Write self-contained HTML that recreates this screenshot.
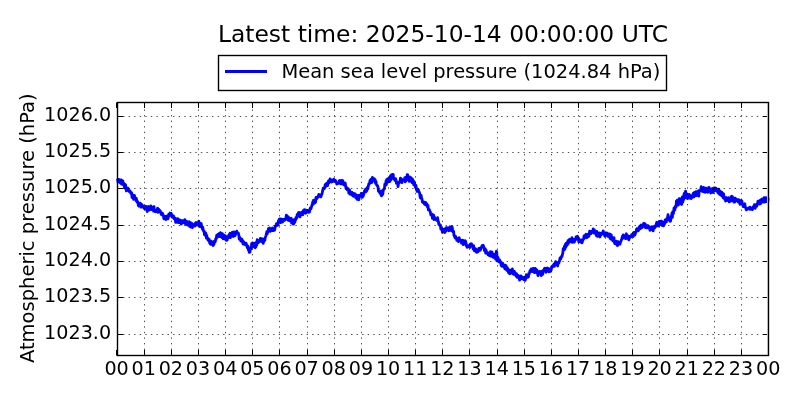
<!DOCTYPE html>
<html><head><meta charset="utf-8"><title>Mean sea level pressure</title>
<style>
html,body{margin:0;padding:0;background:#fff;}
body{width:800px;height:400px;overflow:hidden;}
svg{display:block;font-family:"DejaVu Sans","Liberation Sans",sans-serif;}
text{fill:#000;}
</style></head><body>
<svg width="800" height="400" viewBox="0 0 800 400">
<rect width="800" height="400" fill="#fff"/>
<path d="M117.60 178.53 L118.00 182.16 L118.40 181.84 L118.80 179.45 L119.20 180.83 L119.60 180.80 L120.00 182.03 L120.40 183.05 L120.80 179.90 L121.20 179.86 L121.60 184.15 L122.00 182.35 L122.40 184.24 L122.80 180.79 L123.20 183.41 L123.60 185.28 L124.00 183.34 L124.40 187.47 L124.80 188.00 L125.20 184.41 L125.60 185.07 L126.00 188.31 L126.40 190.94 L126.80 188.54 L127.20 188.14 L127.60 189.60 L128.00 188.07 L128.40 189.45 L128.80 190.92 L129.20 191.60 L129.60 190.67 L130.00 191.02 L130.40 191.56 L130.80 193.45 L131.20 193.29 L131.60 192.67 L132.00 197.50 L132.40 196.43 L132.80 197.17 L133.20 195.18 L133.60 199.46 L134.00 199.00 L134.40 195.49 L134.80 196.73 L135.20 198.91 L135.60 199.14 L136.00 200.61 L136.40 198.41 L136.80 201.55 L137.20 202.07 L137.60 201.39 L138.00 203.48 L138.40 205.59 L138.80 206.02 L139.20 204.92 L139.60 205.70 L140.00 203.05 L140.40 204.21 L140.80 207.11 L141.20 205.30 L141.60 204.19 L142.00 206.19 L142.40 207.16 L142.80 207.22 L143.20 205.93 L143.60 206.46 L144.00 207.01 L144.40 208.57 L144.80 207.63 L145.20 207.35 L145.60 208.19 L146.00 206.24 L146.40 206.66 L146.80 210.31 L147.20 211.54 L147.60 209.26 L148.00 207.95 L148.40 206.54 L148.80 207.94 L149.20 210.20 L149.60 209.01 L150.00 207.69 L150.40 209.15 L150.80 205.88 L151.20 207.19 L151.60 209.63 L152.00 208.07 L152.40 207.79 L152.80 207.15 L153.20 208.85 L153.60 211.20 L154.00 206.72 L154.40 210.84 L154.80 211.21 L155.20 211.69 L155.60 211.09 L156.00 211.58 L156.40 210.24 L156.80 210.49 L157.20 209.90 L157.60 208.17 L158.00 212.39 L158.40 211.05 L158.80 209.35 L159.20 211.04 L159.60 211.09 L160.00 210.59 L160.40 211.29 L160.80 213.00 L161.20 214.15 L161.60 214.80 L162.00 214.68 L162.40 213.05 L162.80 214.55 L163.20 214.77 L163.60 217.25 L164.00 218.81 L164.40 218.52 L164.80 218.59 L165.20 218.86 L165.60 216.32 L166.00 219.49 L166.40 218.89 L166.80 216.15 L167.20 215.97 L167.60 215.87 L168.00 218.87 L168.40 215.63 L168.80 214.22 L169.20 216.06 L169.60 214.31 L170.00 212.98 L170.40 213.42 L170.80 215.24 L171.20 213.45 L171.60 214.33 L172.00 217.00 L172.40 216.26 L172.80 216.20 L173.20 217.59 L173.60 215.94 L174.00 218.31 L174.40 219.01 L174.80 218.33 L175.20 218.22 L175.60 222.28 L176.00 220.44 L176.40 219.08 L176.80 221.23 L177.20 222.44 L177.60 218.62 L178.00 218.77 L178.40 219.56 L178.80 222.52 L179.20 219.87 L179.60 222.66 L180.00 222.55 L180.40 221.90 L180.80 220.27 L181.20 224.03 L181.60 223.20 L182.00 221.93 L182.40 220.65 L182.80 222.83 L183.20 221.57 L183.60 222.46 L184.00 221.13 L184.40 222.58 L184.80 219.55 L185.20 220.76 L185.60 224.30 L186.00 224.00 L186.40 221.31 L186.80 224.24 L187.20 221.70 L187.60 225.10 L188.00 224.46 L188.40 223.18 L188.80 222.71 L189.20 221.76 L189.60 226.32 L190.00 222.26 L190.40 226.33 L190.80 227.11 L191.20 225.15 L191.60 223.23 L192.00 226.83 L192.40 227.50 L192.80 226.29 L193.20 225.44 L193.60 224.87 L194.00 224.74 L194.40 224.00 L194.80 226.08 L195.20 224.60 L195.60 223.16 L196.00 222.51 L196.40 225.11 L196.80 223.01 L197.20 223.78 L197.60 222.62 L198.00 225.03 L198.40 225.28 L198.80 221.12 L199.20 222.25 L199.60 223.11 L200.00 226.65 L200.40 225.81 L200.80 223.84 L201.20 223.52 L201.60 226.20 L202.00 227.57 L202.40 229.01 L202.80 227.04 L203.20 230.68 L203.60 230.61 L204.00 230.77 L204.40 234.57 L204.80 232.03 L205.20 235.39 L205.60 232.79 L206.00 233.81 L206.40 238.12 L206.80 235.27 L207.20 238.58 L207.60 238.39 L208.00 240.24 L208.40 238.56 L208.80 239.09 L209.20 239.36 L209.60 242.74 L210.00 241.93 L210.40 244.17 L210.80 244.34 L211.20 241.10 L211.60 243.71 L212.00 241.97 L212.40 242.13 L212.80 242.08 L213.20 245.57 L213.60 244.65 L214.00 244.27 L214.40 241.19 L214.80 241.76 L215.20 241.82 L215.60 239.11 L216.00 239.49 L216.40 237.00 L216.80 235.13 L217.20 234.97 L217.60 237.03 L218.00 234.32 L218.40 236.14 L218.80 234.14 L219.20 233.49 L219.60 236.25 L220.00 236.64 L220.40 232.75 L220.80 236.20 L221.20 233.45 L221.60 233.70 L222.00 237.70 L222.40 233.65 L222.80 234.87 L223.20 238.87 L223.60 236.30 L224.00 235.09 L224.40 235.67 L224.80 236.29 L225.20 239.01 L225.60 235.98 L226.00 239.99 L226.40 237.32 L226.80 240.31 L227.20 240.09 L227.60 237.02 L228.00 236.49 L228.40 237.27 L228.80 235.06 L229.20 237.48 L229.60 233.98 L230.00 233.31 L230.40 237.68 L230.80 233.79 L231.20 234.87 L231.60 234.11 L232.00 233.46 L232.40 232.21 L232.80 236.40 L233.20 236.56 L233.60 236.42 L234.00 231.93 L234.40 232.22 L234.80 234.01 L235.20 235.58 L235.60 233.14 L236.00 233.65 L236.40 233.34 L236.80 231.18 L237.20 233.13 L237.60 232.74 L238.00 233.23 L238.40 233.19 L238.80 234.93 L239.20 239.13 L239.60 237.05 L240.00 238.60 L240.40 239.07 L240.80 241.06 L241.20 238.81 L241.60 238.96 L242.00 239.67 L242.40 240.24 L242.80 243.42 L243.20 244.10 L243.60 241.55 L244.00 242.09 L244.40 243.54 L244.80 244.17 L245.20 244.78 L245.60 243.62 L246.00 243.11 L246.40 244.85 L246.80 244.62 L247.20 247.62 L247.60 245.81 L248.00 246.45 L248.40 250.00 L248.80 249.06 L249.20 252.33 L249.60 250.89 L250.00 252.07 L250.40 247.81 L250.80 248.53 L251.20 248.67 L251.60 243.71 L252.00 246.99 L252.40 242.94 L252.80 245.86 L253.20 246.89 L253.60 246.15 L254.00 243.90 L254.40 243.19 L254.80 245.53 L255.20 247.79 L255.60 244.85 L256.00 246.86 L256.40 242.10 L256.80 244.95 L257.20 239.58 L257.60 240.19 L258.00 242.83 L258.40 242.04 L258.80 242.25 L259.20 241.63 L259.60 241.03 L260.00 240.79 L260.40 238.34 L260.80 239.78 L261.20 238.60 L261.60 241.66 L262.00 241.65 L262.40 239.72 L262.80 238.87 L263.20 243.25 L263.60 241.88 L264.00 240.02 L264.40 239.46 L264.80 240.50 L265.20 237.80 L265.60 236.58 L266.00 235.33 L266.40 233.94 L266.80 231.77 L267.20 234.02 L267.60 232.07 L268.00 232.05 L268.40 228.74 L268.80 229.53 L269.20 228.26 L269.60 228.03 L270.00 228.56 L270.40 231.26 L270.80 229.14 L271.20 229.36 L271.60 230.61 L272.00 228.91 L272.40 227.96 L272.80 230.48 L273.20 230.13 L273.60 230.62 L274.00 229.29 L274.40 230.26 L274.80 229.52 L275.20 226.13 L275.60 226.55 L276.00 225.65 L276.40 223.68 L276.80 224.05 L277.20 224.21 L277.60 225.32 L278.00 224.67 L278.40 221.00 L278.80 222.47 L279.20 219.10 L279.60 218.87 L280.00 220.80 L280.40 222.54 L280.80 218.88 L281.20 221.85 L281.60 222.34 L282.00 219.38 L282.40 221.20 L282.80 221.86 L283.20 219.34 L283.60 220.85 L284.00 220.61 L284.40 219.34 L284.80 220.11 L285.20 219.78 L285.60 219.58 L286.00 217.14 L286.40 215.07 L286.80 215.97 L287.20 216.35 L287.60 218.66 L288.00 220.16 L288.40 216.92 L288.80 220.27 L289.20 220.61 L289.60 218.91 L290.00 219.88 L290.40 218.35 L290.80 221.41 L291.20 218.23 L291.60 223.23 L292.00 222.68 L292.40 222.14 L292.80 220.72 L293.20 224.16 L293.60 224.11 L294.00 219.70 L294.40 222.54 L294.80 222.49 L295.20 220.78 L295.60 219.80 L296.00 217.35 L296.40 218.58 L296.80 217.70 L297.20 214.36 L297.60 216.31 L298.00 214.31 L298.40 212.78 L298.80 213.42 L299.20 212.53 L299.60 216.54 L300.00 216.90 L300.40 212.84 L300.80 215.21 L301.20 214.03 L301.60 212.37 L302.00 213.05 L302.40 212.61 L302.80 214.81 L303.20 210.74 L303.60 211.30 L304.00 212.15 L304.40 209.62 L304.80 212.52 L305.20 212.28 L305.60 213.28 L306.00 210.02 L306.40 210.36 L306.80 211.68 L307.20 210.42 L307.60 212.12 L308.00 210.62 L308.40 212.41 L308.80 212.35 L309.20 211.77 L309.60 211.83 L310.00 208.84 L310.40 207.86 L310.80 208.99 L311.20 207.92 L311.60 206.38 L312.00 204.84 L312.40 203.43 L312.80 201.69 L313.20 204.33 L313.60 200.02 L314.00 202.63 L314.40 201.25 L314.80 202.93 L315.20 201.45 L315.60 202.01 L316.00 197.38 L316.40 198.75 L316.80 198.68 L317.20 196.93 L317.60 197.51 L318.00 196.55 L318.40 197.16 L318.80 194.28 L319.20 196.27 L319.60 196.05 L320.00 195.02 L320.40 195.19 L320.80 196.80 L321.20 195.98 L321.60 194.22 L322.00 194.12 L322.40 191.90 L322.80 190.16 L323.20 188.17 L323.60 188.22 L324.00 188.50 L324.40 188.58 L324.80 186.97 L325.20 184.59 L325.60 186.75 L326.00 183.89 L326.40 185.54 L326.80 183.22 L327.20 184.65 L327.60 185.61 L328.00 181.96 L328.40 181.05 L328.80 183.05 L329.20 182.28 L329.60 181.07 L330.00 178.91 L330.40 180.45 L330.80 180.32 L331.20 179.99 L331.60 182.03 L332.00 180.39 L332.40 180.88 L332.80 181.48 L333.20 180.56 L333.60 179.17 L334.00 180.40 L334.40 179.89 L334.80 180.54 L335.20 181.04 L335.60 180.50 L336.00 182.17 L336.40 182.54 L336.80 184.08 L337.20 183.31 L337.60 183.61 L338.00 183.16 L338.40 183.36 L338.80 182.27 L339.20 180.96 L339.60 180.55 L340.00 182.81 L340.40 183.81 L340.80 182.31 L341.20 180.48 L341.60 183.96 L342.00 182.31 L342.40 182.42 L342.80 180.52 L343.20 183.08 L343.60 184.51 L344.00 183.33 L344.40 183.52 L344.80 185.55 L345.20 182.87 L345.60 185.81 L346.00 188.68 L346.40 188.10 L346.80 187.40 L347.20 189.63 L347.60 189.97 L348.00 188.56 L348.40 189.11 L348.80 193.04 L349.20 190.44 L349.60 189.90 L350.00 194.03 L350.40 192.82 L350.80 192.36 L351.20 193.37 L351.60 194.81 L352.00 192.25 L352.40 194.92 L352.80 195.47 L353.20 196.19 L353.60 193.56 L354.00 195.40 L354.40 193.72 L354.80 195.59 L355.20 193.93 L355.60 197.33 L356.00 198.01 L356.40 195.61 L356.80 195.33 L357.20 199.29 L357.60 198.23 L358.00 199.14 L358.40 195.31 L358.80 199.77 L359.20 197.64 L359.60 195.42 L360.00 195.38 L360.40 196.49 L360.80 196.40 L361.20 193.51 L361.60 195.75 L362.00 193.45 L362.40 197.38 L362.80 194.38 L363.20 196.24 L363.60 194.76 L364.00 193.55 L364.40 191.23 L364.80 192.10 L365.20 189.73 L365.60 189.33 L366.00 191.86 L366.40 189.57 L366.80 190.76 L367.20 187.49 L367.60 189.21 L368.00 188.60 L368.40 185.66 L368.80 183.70 L369.20 184.15 L369.60 183.56 L370.00 180.45 L370.40 180.49 L370.80 179.39 L371.20 181.64 L371.60 182.61 L372.00 178.75 L372.40 177.30 L372.80 180.12 L373.20 180.19 L373.60 180.48 L374.00 179.13 L374.40 178.71 L374.80 182.15 L375.20 179.53 L375.60 183.40 L376.00 181.35 L376.40 183.84 L376.80 185.31 L377.20 185.74 L377.60 185.74 L378.00 187.18 L378.40 191.20 L378.80 190.43 L379.20 191.99 L379.60 190.71 L380.00 193.42 L380.40 191.76 L380.80 193.44 L381.20 195.42 L381.60 195.83 L382.00 190.79 L382.40 194.41 L382.80 194.39 L383.20 190.86 L383.60 189.41 L384.00 188.70 L384.40 188.76 L384.80 184.22 L385.20 185.69 L385.60 184.58 L386.00 180.83 L386.40 184.60 L386.80 179.32 L387.20 179.74 L387.60 182.36 L388.00 178.71 L388.40 180.20 L388.80 178.43 L389.20 179.92 L389.60 181.61 L390.00 181.49 L390.40 175.96 L390.80 175.58 L391.20 179.59 L391.60 174.60 L392.00 175.62 L392.40 174.50 L392.80 174.45 L393.20 174.32 L393.60 178.09 L394.00 178.97 L394.40 178.89 L394.80 180.33 L395.20 179.77 L395.60 178.64 L396.00 180.42 L396.40 183.18 L396.80 182.84 L397.20 182.07 L397.60 182.06 L398.00 186.70 L398.40 184.36 L398.80 182.58 L399.20 183.05 L399.60 181.83 L400.00 180.68 L400.40 178.12 L400.80 179.86 L401.20 180.23 L401.60 178.96 L402.00 182.71 L402.40 179.68 L402.80 180.59 L403.20 180.44 L403.60 180.19 L404.00 180.00 L404.40 180.33 L404.80 177.74 L405.20 181.86 L405.60 177.48 L406.00 181.05 L406.40 180.10 L406.80 179.50 L407.20 174.74 L407.60 174.73 L408.00 178.97 L408.40 177.71 L408.80 177.72 L409.20 181.34 L409.60 176.88 L410.00 179.48 L410.40 179.16 L410.80 177.69 L411.20 179.17 L411.60 181.20 L412.00 182.61 L412.40 178.85 L412.80 181.88 L413.20 180.27 L413.60 184.58 L414.00 181.72 L414.40 182.14 L414.80 184.56 L415.20 187.00 L415.60 185.65 L416.00 185.49 L416.40 189.59 L416.80 190.43 L417.20 191.29 L417.60 189.08 L418.00 190.23 L418.40 189.91 L418.80 192.10 L419.20 191.90 L419.60 192.89 L420.00 196.08 L420.40 197.90 L420.80 196.92 L421.20 195.31 L421.60 198.84 L422.00 198.62 L422.40 202.11 L422.80 201.36 L423.20 202.46 L423.60 202.28 L424.00 201.90 L424.40 204.12 L424.80 204.41 L425.20 202.31 L425.60 202.28 L426.00 204.01 L426.40 205.38 L426.80 203.80 L427.20 205.61 L427.60 207.35 L428.00 205.32 L428.40 210.02 L428.80 210.12 L429.20 209.38 L429.60 210.23 L430.00 211.43 L430.40 212.03 L430.80 214.91 L431.20 214.45 L431.60 215.36 L432.00 214.18 L432.40 218.45 L432.80 215.86 L433.20 216.12 L433.60 214.97 L434.00 219.52 L434.40 216.93 L434.80 219.00 L435.20 219.01 L435.60 219.23 L436.00 218.85 L436.40 219.87 L436.80 220.40 L437.20 220.38 L437.60 217.70 L438.00 220.45 L438.40 221.49 L438.80 224.33 L439.20 224.00 L439.60 224.51 L440.00 225.86 L440.40 225.04 L440.80 229.08 L441.20 228.78 L441.60 228.21 L442.00 229.14 L442.40 232.38 L442.80 230.82 L443.20 229.49 L443.60 229.31 L444.00 231.86 L444.40 231.04 L444.80 232.53 L445.20 228.70 L445.60 229.66 L446.00 231.09 L446.40 227.57 L446.80 227.69 L447.20 230.04 L447.60 228.79 L448.00 228.11 L448.40 228.97 L448.80 230.83 L449.20 229.84 L449.60 227.19 L450.00 226.82 L450.40 230.45 L450.80 229.36 L451.20 227.14 L451.60 230.71 L452.00 226.60 L452.40 228.38 L452.80 231.71 L453.20 232.25 L453.60 231.33 L454.00 235.60 L454.40 235.35 L454.80 237.29 L455.20 238.01 L455.60 236.25 L456.00 238.05 L456.40 237.88 L456.80 240.26 L457.20 239.88 L457.60 239.85 L458.00 240.61 L458.40 241.60 L458.80 237.89 L459.20 237.65 L459.60 240.47 L460.00 240.76 L460.40 239.93 L460.80 240.28 L461.20 240.37 L461.60 243.23 L462.00 243.23 L462.40 242.59 L462.80 240.23 L463.20 244.60 L463.60 242.93 L464.00 241.66 L464.40 242.18 L464.80 244.13 L465.20 240.72 L465.60 241.34 L466.00 242.70 L466.40 246.08 L466.80 245.83 L467.20 247.42 L467.60 245.64 L468.00 245.80 L468.40 245.72 L468.80 245.60 L469.20 245.66 L469.60 246.94 L470.00 247.42 L470.40 244.51 L470.80 245.46 L471.20 243.74 L471.60 244.00 L472.00 245.43 L472.40 246.26 L472.80 246.53 L473.20 249.13 L473.60 245.64 L474.00 248.53 L474.40 250.81 L474.80 249.99 L475.20 249.51 L475.60 248.81 L476.00 249.27 L476.40 252.23 L476.80 252.31 L477.20 251.04 L477.60 251.89 L478.00 251.72 L478.40 251.01 L478.80 248.42 L479.20 248.75 L479.60 250.37 L480.00 248.25 L480.40 250.15 L480.80 248.64 L481.20 247.55 L481.60 247.75 L482.00 245.64 L482.40 246.42 L482.80 246.89 L483.20 245.27 L483.60 246.42 L484.00 247.24 L484.40 250.62 L484.80 249.83 L485.20 248.89 L485.60 253.04 L486.00 249.92 L486.40 251.72 L486.80 253.30 L487.20 253.48 L487.60 252.60 L488.00 254.74 L488.40 253.35 L488.80 254.45 L489.20 253.32 L489.60 255.73 L490.00 254.46 L490.40 251.60 L490.80 252.03 L491.20 256.42 L491.60 252.90 L492.00 252.04 L492.40 253.44 L492.80 254.81 L493.20 257.40 L493.60 254.89 L494.00 256.74 L494.40 257.52 L494.80 254.08 L495.20 257.04 L495.60 259.34 L496.00 254.11 L496.40 251.06 L496.80 252.76 L497.20 260.25 L497.60 261.09 L498.00 257.42 L498.40 260.27 L498.80 260.15 L499.20 261.99 L499.60 259.79 L500.00 261.08 L500.40 261.73 L500.80 263.26 L501.20 265.28 L501.60 266.08 L502.00 266.17 L502.40 266.04 L502.80 263.42 L503.20 265.22 L503.60 266.89 L504.00 265.30 L504.40 266.66 L504.80 268.85 L505.20 265.13 L505.60 269.04 L506.00 265.53 L506.40 267.25 L506.80 270.30 L507.20 267.26 L507.60 269.35 L508.00 269.34 L508.40 272.13 L508.80 273.06 L509.20 269.95 L509.60 271.36 L510.00 273.75 L510.40 271.85 L510.80 270.06 L511.20 272.66 L511.60 270.44 L512.00 271.15 L512.40 268.89 L512.80 273.92 L513.20 272.39 L513.60 273.84 L514.00 274.38 L514.40 271.29 L514.80 273.05 L515.20 272.92 L515.60 274.86 L516.00 275.97 L516.40 273.58 L516.80 274.50 L517.20 277.33 L517.60 276.40 L518.00 275.20 L518.40 275.73 L518.80 277.79 L519.20 278.24 L519.60 280.17 L520.00 277.98 L520.40 278.32 L520.80 275.96 L521.20 277.27 L521.60 276.58 L522.00 278.81 L522.40 277.04 L522.80 277.21 L523.20 278.47 L523.60 279.45 L524.00 278.70 L524.40 279.72 L524.80 277.05 L525.20 280.34 L525.60 278.96 L526.00 277.70 L526.40 274.76 L526.80 275.84 L527.20 277.44 L527.60 276.78 L528.00 277.24 L528.40 277.17 L528.80 273.46 L529.20 273.88 L529.60 272.42 L530.00 270.74 L530.40 270.27 L530.80 270.36 L531.20 268.87 L531.60 271.01 L532.00 271.59 L532.40 270.52 L532.80 270.92 L533.20 268.29 L533.60 268.35 L534.00 270.64 L534.40 272.68 L534.80 270.43 L535.20 268.42 L535.60 268.80 L536.00 270.63 L536.40 272.61 L536.80 269.97 L537.20 271.01 L537.60 273.78 L538.00 275.71 L538.40 272.37 L538.80 273.97 L539.20 273.80 L539.60 271.32 L540.00 273.23 L540.40 272.42 L540.80 273.02 L541.20 275.63 L541.60 274.94 L542.00 271.24 L542.40 271.26 L542.80 274.40 L543.20 270.46 L543.60 271.10 L544.00 270.30 L544.40 268.56 L544.80 268.18 L545.20 268.51 L545.60 269.67 L546.00 272.28 L546.40 270.43 L546.80 268.20 L547.20 270.43 L547.60 268.16 L548.00 269.38 L548.40 268.43 L548.80 271.88 L549.20 269.00 L549.60 271.59 L550.00 270.96 L550.40 271.39 L550.80 269.47 L551.20 270.03 L551.60 266.87 L552.00 267.49 L552.40 266.63 L552.80 265.66 L553.20 265.40 L553.60 264.84 L554.00 263.95 L554.40 266.38 L554.80 264.90 L555.20 264.28 L555.60 261.55 L556.00 264.18 L556.40 262.91 L556.80 263.57 L557.20 265.19 L557.60 265.95 L558.00 263.57 L558.40 262.75 L558.80 263.09 L559.20 261.82 L559.60 260.48 L560.00 258.02 L560.40 258.42 L560.80 258.90 L561.20 257.43 L561.60 256.23 L562.00 256.46 L562.40 254.57 L562.80 253.07 L563.20 248.59 L563.60 249.07 L564.00 250.02 L564.40 246.45 L564.80 249.29 L565.20 244.57 L565.60 247.53 L566.00 243.52 L566.40 245.99 L566.80 245.38 L567.20 242.35 L567.60 244.70 L568.00 240.63 L568.40 243.65 L568.80 240.93 L569.20 241.00 L569.60 239.18 L570.00 241.40 L570.40 239.53 L570.80 241.36 L571.20 241.95 L571.60 240.85 L572.00 237.73 L572.40 242.30 L572.80 242.07 L573.20 240.68 L573.60 239.42 L574.00 240.44 L574.40 242.15 L574.80 239.47 L575.20 240.41 L575.60 238.74 L576.00 236.98 L576.40 239.10 L576.80 236.85 L577.20 238.35 L577.60 236.25 L578.00 239.14 L578.40 237.75 L578.80 241.83 L579.20 239.06 L579.60 239.95 L580.00 240.91 L580.40 240.75 L580.80 242.19 L581.20 240.94 L581.60 239.96 L582.00 242.88 L582.40 241.71 L582.80 239.70 L583.20 239.75 L583.60 239.22 L584.00 235.91 L584.40 238.42 L584.80 235.29 L585.20 236.62 L585.60 235.31 L586.00 234.25 L586.40 237.23 L586.80 237.76 L587.20 234.57 L587.60 237.15 L588.00 234.04 L588.40 235.19 L588.80 236.47 L589.20 234.90 L589.60 231.22 L590.00 233.38 L590.40 232.49 L590.80 231.52 L591.20 233.63 L591.60 231.32 L592.00 232.22 L592.40 231.90 L592.80 231.32 L593.20 228.98 L593.60 232.04 L594.00 233.12 L594.40 229.86 L594.80 232.59 L595.20 232.20 L595.60 231.86 L596.00 234.09 L596.40 235.81 L596.80 231.41 L597.20 236.14 L597.60 233.90 L598.00 236.45 L598.40 233.21 L598.80 235.93 L599.20 232.80 L599.60 233.89 L600.00 236.96 L600.40 234.94 L600.80 235.17 L601.20 233.19 L601.60 232.93 L602.00 232.77 L602.40 234.05 L602.80 233.70 L603.20 230.95 L603.60 232.24 L604.00 233.28 L604.40 233.97 L604.80 236.29 L605.20 236.23 L605.60 232.99 L606.00 234.30 L606.40 233.12 L606.80 232.83 L607.20 233.08 L607.60 233.53 L608.00 236.39 L608.40 235.88 L608.80 236.54 L609.20 234.17 L609.60 233.85 L610.00 238.29 L610.40 237.93 L610.80 238.94 L611.20 234.78 L611.60 237.18 L612.00 238.82 L612.40 239.69 L612.80 240.88 L613.20 239.35 L613.60 239.07 L614.00 237.63 L614.40 242.14 L614.80 243.58 L615.20 243.65 L615.60 242.78 L616.00 241.51 L616.40 241.32 L616.80 244.38 L617.20 245.37 L617.60 245.51 L618.00 241.66 L618.40 243.83 L618.80 243.59 L619.20 242.96 L619.60 244.22 L620.00 244.24 L620.40 242.39 L620.80 241.38 L621.20 240.48 L621.60 239.55 L622.00 238.28 L622.40 236.24 L622.80 238.38 L623.20 234.79 L623.60 237.33 L624.00 235.98 L624.40 236.78 L624.80 237.13 L625.20 236.26 L625.60 238.71 L626.00 234.98 L626.40 233.79 L626.80 238.43 L627.20 235.33 L627.60 235.46 L628.00 236.45 L628.40 237.64 L628.80 239.90 L629.20 238.58 L629.60 236.47 L630.00 237.38 L630.40 236.79 L630.80 236.90 L631.20 236.27 L631.60 234.72 L632.00 235.56 L632.40 235.18 L632.80 233.85 L633.20 236.55 L633.60 233.87 L634.00 232.43 L634.40 234.10 L634.80 235.08 L635.20 234.17 L635.60 232.58 L636.00 232.34 L636.40 229.59 L636.80 228.73 L637.20 229.72 L637.60 230.66 L638.00 230.77 L638.40 230.69 L638.80 228.07 L639.20 226.98 L639.60 226.75 L640.00 226.07 L640.40 228.73 L640.80 227.06 L641.20 225.02 L641.60 225.83 L642.00 227.74 L642.40 226.10 L642.80 225.78 L643.20 224.74 L643.60 223.51 L644.00 225.76 L644.40 223.33 L644.80 227.19 L645.20 223.87 L645.60 227.64 L646.00 226.07 L646.40 227.84 L646.80 227.66 L647.20 225.61 L647.60 227.86 L648.00 225.63 L648.40 226.50 L648.80 227.19 L649.20 226.69 L649.60 228.61 L650.00 230.36 L650.40 227.38 L650.80 229.98 L651.20 227.11 L651.60 229.69 L652.00 228.04 L652.40 229.17 L652.80 227.16 L653.20 230.87 L653.60 227.13 L654.00 227.72 L654.40 226.08 L654.80 227.87 L655.20 226.18 L655.60 225.93 L656.00 226.30 L656.40 223.51 L656.80 222.25 L657.20 225.89 L657.60 223.13 L658.00 225.42 L658.40 225.95 L658.80 224.12 L659.20 221.29 L659.60 224.82 L660.00 223.49 L660.40 221.32 L660.80 221.10 L661.20 222.81 L661.60 221.12 L662.00 225.32 L662.40 224.61 L662.80 225.32 L663.20 223.21 L663.60 225.90 L664.00 221.85 L664.40 224.59 L664.80 221.77 L665.20 219.94 L665.60 219.93 L666.00 219.78 L666.40 221.97 L666.80 218.64 L667.20 218.05 L667.60 217.72 L668.00 214.73 L668.40 217.14 L668.80 218.04 L669.20 220.24 L669.60 218.37 L670.00 221.24 L670.40 221.38 L670.80 219.52 L671.20 216.65 L671.60 215.00 L672.00 213.12 L672.40 217.34 L672.80 211.72 L673.20 213.92 L673.60 212.39 L674.00 208.17 L674.40 207.67 L674.80 210.22 L675.20 206.50 L675.60 207.43 L676.00 207.05 L676.40 201.08 L676.80 204.92 L677.20 200.24 L677.60 202.59 L678.00 202.15 L678.40 205.15 L678.80 202.00 L679.20 198.56 L679.60 200.56 L680.00 200.80 L680.40 198.75 L680.80 200.15 L681.20 204.07 L681.60 204.42 L682.00 202.47 L682.40 196.88 L682.80 202.08 L683.20 198.16 L683.60 199.83 L684.00 194.25 L684.40 193.10 L684.80 197.51 L685.20 192.76 L685.60 191.16 L686.00 194.51 L686.40 198.10 L686.80 197.17 L687.20 194.17 L687.60 198.37 L688.00 197.02 L688.40 197.37 L688.80 196.05 L689.20 194.37 L689.60 198.02 L690.00 195.01 L690.40 198.26 L690.80 195.76 L691.20 198.62 L691.60 195.95 L692.00 195.97 L692.40 197.48 L692.80 195.17 L693.20 193.33 L693.60 195.75 L694.00 196.93 L694.40 192.29 L694.80 196.03 L695.20 195.08 L695.60 194.57 L696.00 191.59 L696.40 195.63 L696.80 194.83 L697.20 194.01 L697.60 191.49 L698.00 195.44 L698.40 190.96 L698.80 196.17 L699.20 191.18 L699.60 190.35 L700.00 190.57 L700.40 190.03 L700.80 188.52 L701.20 186.73 L701.60 188.91 L702.00 191.21 L702.40 188.96 L702.80 189.58 L703.20 191.76 L703.60 187.45 L704.00 188.51 L704.40 189.39 L704.80 188.75 L705.20 192.26 L705.60 188.16 L706.00 188.08 L706.40 189.11 L706.80 190.01 L707.20 191.50 L707.60 192.30 L708.00 191.45 L708.40 190.16 L708.80 187.29 L709.20 187.45 L709.60 190.46 L710.00 191.68 L710.40 189.19 L710.80 192.99 L711.20 191.17 L711.60 191.22 L712.00 191.34 L712.40 188.52 L712.80 188.86 L713.20 192.53 L713.60 189.04 L714.00 187.92 L714.40 188.66 L714.80 190.64 L715.20 188.21 L715.60 188.00 L716.00 188.44 L716.40 189.58 L716.80 191.03 L717.20 189.06 L717.60 192.16 L718.00 192.93 L718.40 192.44 L718.80 189.03 L719.20 190.78 L719.60 194.36 L720.00 194.54 L720.40 191.38 L720.80 193.35 L721.20 193.37 L721.60 195.67 L722.00 192.47 L722.40 194.31 L722.80 196.75 L723.20 197.69 L723.60 193.77 L724.00 196.90 L724.40 197.73 L724.80 199.39 L725.20 197.74 L725.60 201.01 L726.00 197.56 L726.40 197.51 L726.80 197.91 L727.20 200.48 L727.60 198.44 L728.00 199.46 L728.40 198.88 L728.80 197.78 L729.20 201.96 L729.60 198.52 L730.00 201.40 L730.40 200.04 L730.80 197.41 L731.20 200.90 L731.60 196.21 L732.00 200.97 L732.40 196.74 L732.80 198.32 L733.20 200.26 L733.60 197.98 L734.00 202.19 L734.40 198.63 L734.80 202.16 L735.20 198.14 L735.60 200.50 L736.00 198.77 L736.40 199.45 L736.80 200.66 L737.20 200.19 L737.60 200.39 L738.00 201.83 L738.40 199.61 L738.80 199.70 L739.20 202.45 L739.60 200.78 L740.00 204.25 L740.40 201.99 L740.80 202.51 L741.20 200.53 L741.60 200.76 L742.00 201.37 L742.40 204.38 L742.80 204.91 L743.20 206.64 L743.60 204.33 L744.00 206.00 L744.40 204.60 L744.80 203.70 L745.20 205.91 L745.60 207.84 L746.00 208.89 L746.40 209.86 L746.80 209.48 L747.20 208.33 L747.60 208.43 L748.00 208.34 L748.40 208.02 L748.80 208.81 L749.20 208.06 L749.60 209.28 L750.00 207.09 L750.40 207.33 L750.80 209.32 L751.20 208.74 L751.60 208.17 L752.00 208.52 L752.40 209.63 L752.80 208.49 L753.20 206.55 L753.60 206.59 L754.00 207.83 L754.40 204.72 L754.80 206.46 L755.20 208.33 L755.60 204.76 L756.00 205.53 L756.40 205.92 L756.80 206.18 L757.20 204.20 L757.60 203.06 L758.00 201.14 L758.40 201.63 L758.80 202.91 L759.20 201.73 L759.60 204.10 L760.00 200.42 L760.40 203.81 L760.80 203.43 L761.20 200.88 L761.60 199.04 L762.00 200.26 L762.40 201.24 L762.80 201.97 L763.20 202.11 L763.60 198.52 L764.00 197.59 L764.40 197.72 L764.80 202.01 L765.20 200.22 L765.60 197.55 L766.00 200.29 L766.40 201.58 L766.80 199.78 L767.20 197.91 L767.60 201.59 L768.00 200.35 L768.10 197.84" stroke="#0000ff" stroke-width="2.78" fill="none" stroke-linejoin="round" stroke-linecap="butt"/>
<path d="M144.5 355.5V102.5M171.5 355.5V102.5M198.5 355.5V102.5M225.5 355.5V102.5M252.5 355.5V102.5M279.5 355.5V102.5M307.5 355.5V102.5M334.5 355.5V102.5M361.5 355.5V102.5M388.5 355.5V102.5M415.5 355.5V102.5M442.5 355.5V102.5M469.5 355.5V102.5M497.5 355.5V102.5M524.5 355.5V102.5M551.5 355.5V102.5M578.5 355.5V102.5M605.5 355.5V102.5M632.5 355.5V102.5M659.5 355.5V102.5M687.5 355.5V102.5M714.5 355.5V102.5M741.5 355.5V102.5M117.5 334.5H768.5M117.5 297.5H768.5M117.5 261.5H768.5M117.5 225.5H768.5M117.5 188.5H768.5M117.5 152.5H768.5M117.5 116.5H768.5" stroke="#000" stroke-width="0.69" stroke-dasharray="1.39 4.17" fill="none"/>
<path d="M116.5 355.5v-5.56M116.5 102.5v5.56M144.5 355.5v-5.56M144.5 102.5v5.56M171.5 355.5v-5.56M171.5 102.5v5.56M198.5 355.5v-5.56M198.5 102.5v5.56M225.5 355.5v-5.56M225.5 102.5v5.56M252.5 355.5v-5.56M252.5 102.5v5.56M279.5 355.5v-5.56M279.5 102.5v5.56M307.5 355.5v-5.56M307.5 102.5v5.56M334.5 355.5v-5.56M334.5 102.5v5.56M361.5 355.5v-5.56M361.5 102.5v5.56M388.5 355.5v-5.56M388.5 102.5v5.56M415.5 355.5v-5.56M415.5 102.5v5.56M442.5 355.5v-5.56M442.5 102.5v5.56M469.5 355.5v-5.56M469.5 102.5v5.56M497.5 355.5v-5.56M497.5 102.5v5.56M524.5 355.5v-5.56M524.5 102.5v5.56M551.5 355.5v-5.56M551.5 102.5v5.56M578.5 355.5v-5.56M578.5 102.5v5.56M605.5 355.5v-5.56M605.5 102.5v5.56M632.5 355.5v-5.56M632.5 102.5v5.56M659.5 355.5v-5.56M659.5 102.5v5.56M687.5 355.5v-5.56M687.5 102.5v5.56M714.5 355.5v-5.56M714.5 102.5v5.56M741.5 355.5v-5.56M741.5 102.5v5.56M768.5 355.5v-5.56M768.5 102.5v5.56M117.5 334.5h5.56M768.5 334.5h-5.56M117.5 297.5h5.56M768.5 297.5h-5.56M117.5 261.5h5.56M768.5 261.5h-5.56M117.5 225.5h5.56M768.5 225.5h-5.56M117.5 188.5h5.56M768.5 188.5h-5.56M117.5 152.5h5.56M768.5 152.5h-5.56M117.5 116.5h5.56M768.5 116.5h-5.56" stroke="#000" stroke-width="1.0" fill="none"/>
<rect x="767" y="103" width="1" height="252" fill="#d8f2d8"/>
<rect x="117.5" y="102.5" width="651.0" height="253.0" stroke="#000" stroke-width="1.39" fill="none"/>
<g font-size="19.15"><text x="116.57" y="374.6" text-anchor="middle">00</text><text x="143.72" y="374.6" text-anchor="middle">01</text><text x="170.87" y="374.6" text-anchor="middle">02</text><text x="198.02" y="374.6" text-anchor="middle">03</text><text x="225.17" y="374.6" text-anchor="middle">04</text><text x="252.32" y="374.6" text-anchor="middle">05</text><text x="279.47" y="374.6" text-anchor="middle">06</text><text x="306.62" y="374.6" text-anchor="middle">07</text><text x="333.77" y="374.6" text-anchor="middle">08</text><text x="360.92" y="374.6" text-anchor="middle">09</text><text x="388.07" y="374.6" text-anchor="middle">10</text><text x="415.22" y="374.6" text-anchor="middle">11</text><text x="442.37" y="374.6" text-anchor="middle">12</text><text x="469.52" y="374.6" text-anchor="middle">13</text><text x="496.67" y="374.6" text-anchor="middle">14</text><text x="523.82" y="374.6" text-anchor="middle">15</text><text x="550.97" y="374.6" text-anchor="middle">16</text><text x="578.12" y="374.6" text-anchor="middle">17</text><text x="605.27" y="374.6" text-anchor="middle">18</text><text x="632.42" y="374.6" text-anchor="middle">19</text><text x="659.57" y="374.6" text-anchor="middle">20</text><text x="686.72" y="374.6" text-anchor="middle">21</text><text x="713.87" y="374.6" text-anchor="middle">22</text><text x="741.02" y="374.6" text-anchor="middle">23</text><text x="768.17" y="374.6" text-anchor="middle">00</text><text x="111.1" y="338.90" text-anchor="end">1023.0</text><text x="111.1" y="301.90" text-anchor="end">1023.5</text><text x="111.1" y="265.90" text-anchor="end">1024.0</text><text x="111.1" y="229.90" text-anchor="end">1024.5</text><text x="111.1" y="192.90" text-anchor="end">1025.0</text><text x="111.1" y="156.90" text-anchor="end">1025.5</text><text x="111.1" y="120.90" text-anchor="end">1026.0</text><text transform="translate(33.9 228.2) rotate(-90)" text-anchor="middle" font-size="19.5">Atmospheric pressure (hPa)</text></g>
<text x="443.0" y="42" text-anchor="middle" font-size="23.4">Latest time: 2025-10-14 00:00:00 UTC</text>
<rect x="218.5" y="55.5" width="448" height="35" stroke="#000" stroke-width="1.39" fill="#fff"/>
<path d="M225 71.5H267" stroke="#0000ff" stroke-width="3"/>
<text x="281.4" y="78" font-size="19.47">Mean sea level pressure (1024.84 hPa)</text>
</svg>
</body></html>
